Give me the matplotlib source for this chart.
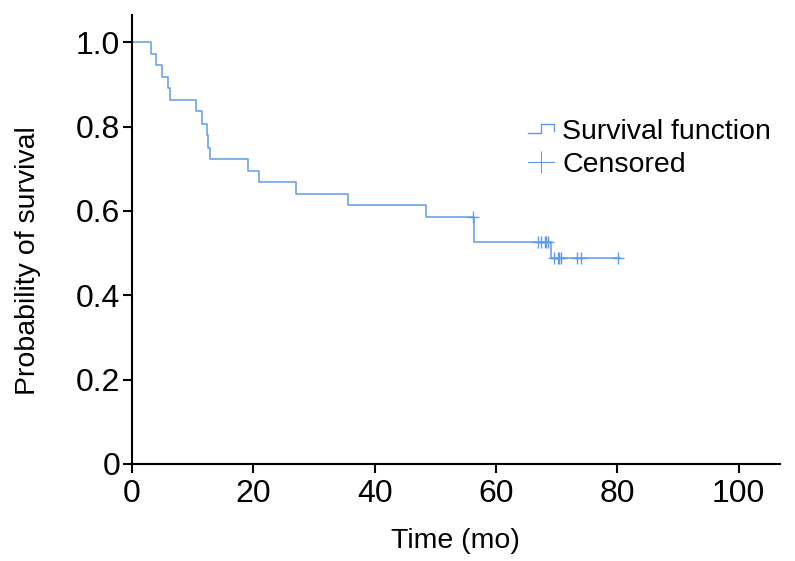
import matplotlib
matplotlib.use("Agg")
import matplotlib.pyplot as plt
from matplotlib.legend_handler import HandlerBase
from matplotlib.lines import Line2D

# Kaplan-Meier curve (time in months)
event_times = [3.1, 3.9, 5.0, 6.0, 6.3, 10.5, 11.6, 12.4, 12.6, 12.9,
               19.2, 20.9, 27.0, 35.6, 48.4, 56.3, 69.0]
survival = [0.973, 0.946, 0.918, 0.891, 0.863, 0.836, 0.806, 0.780, 0.749, 0.722,
            0.695, 0.668, 0.640, 0.613, 0.585, 0.527, 0.488]
censor_times = [56.2, 67.0, 67.5, 68.0, 68.3, 68.6, 69.5, 70.2, 70.4, 70.7,
                73.3, 74.0, 80.1]
end_time = 80.5

x_ticks = [0, 20, 40, 60, 80, 100]
y_ticks = [0, 0.2, 0.4, 0.6, 0.8, 1.0]
y_tick_labels = ["0", "0.2", "0.4", "0.6", "0.8", "1.0"]

LINE_COLOR = "#5f9be6"


def surv_at(t):
    s = 1.0
    for et, sv in zip(event_times, survival):
        if et <= t:
            s = sv
    return s


class StepHandler(HandlerBase):
    # little step glyph like the one in the original legend
    def create_artists(self, legend, orig_handle, xdescent, ydescent,
                       width, height, fontsize, trans):
        x0, x1 = -xdescent, -xdescent + width
        y0, y1 = -ydescent + height * 0.3, -ydescent + height * 0.75
        xm = x0 + width * 0.5
        line = Line2D([x0, xm, xm, x1, x1], [y0, y0, y1, y1, y0 + height * 0.1],
                      color=LINE_COLOR, lw=1.0, transform=trans)
        return [line]


plt.rcParams["font.family"] = ["Liberation Sans", "DejaVu Sans"]

fig = plt.figure(figsize=(7.95, 5.61), dpi=100)
ax = fig.add_axes([0.166, 0.173, 0.815, 0.80])

xs = [0] + event_times + [end_time]
ys = [1.0] + survival + [survival[-1]]
step_line, = ax.step(xs, ys, where="post", color=LINE_COLOR, lw=1.1)

cens_y = [surv_at(t) for t in censor_times]
ax.plot(censor_times, cens_y, linestyle="none", marker="+",
        markersize=8, markeredgewidth=1.0, color=LINE_COLOR)

ax.set_xlim(0, 106.8)
ax.set_ylim(0, 1.064)
ax.set_xticks(x_ticks)
ax.set_yticks(y_ticks)
ax.set_yticklabels(y_tick_labels)

for side in ["top", "right"]:
    ax.spines[side].set_visible(False)
for side in ["left", "bottom"]:
    ax.spines[side].set_linewidth(1.5)
ax.tick_params(direction="out", length=6.5, width=1.5, labelsize=23)
ax.tick_params(axis="x", pad=4)
ax.tick_params(axis="y", pad=2)

ax.set_xlabel("Time (mo)", fontsize=20.5, labelpad=14)
ax.set_ylabel("Probability of survival", fontsize=20.5)
ax.yaxis.set_label_coords(-0.141, 0.452)

cens_handle = Line2D([], [], color=LINE_COLOR, lw=0.8, marker="+",
                     markersize=16, markeredgewidth=0.8)
ax.legend([step_line, cens_handle], ["Survival function", "Censored"],
          handler_map={step_line: StepHandler()},
          loc="upper left", bbox_to_anchor=(0.594, 0.793), borderaxespad=0,
          frameon=False, fontsize=20.5, handlelength=0.9, handletextpad=0.3,
          labelspacing=0.22)

fig.savefig("out.png", dpi=100)
